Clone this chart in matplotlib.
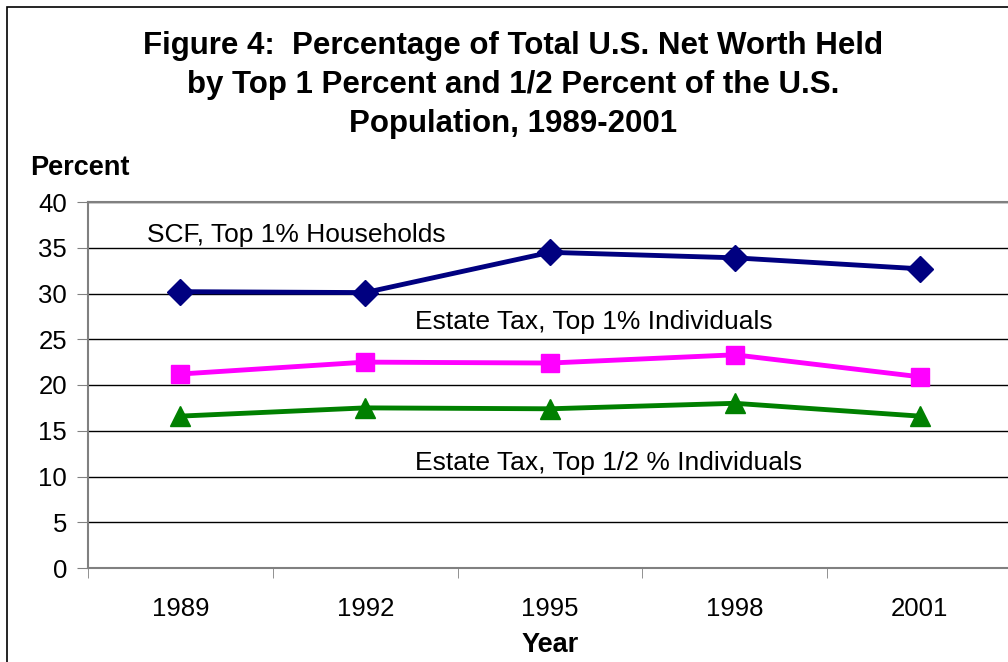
import numpy as np
import matplotlib.pyplot as plt

years = ['1989', '1992', '1995', '1998', '2001']
scf_top1 = [30.2, 30.1, 34.5, 33.9, 32.7]
estate_top1 = [21.2, 22.5, 22.4, 23.3, 20.9]
estate_top_half = [16.6, 17.5, 17.4, 18.0, 16.6]

plt.rcParams['font.family'] = ['Liberation Sans', 'DejaVu Sans']

fig = plt.figure(figsize=(10.08, 6.62), dpi=100)
# border of the original chart box
fig.patches.append(plt.Rectangle((7/1008, -0.1), 1.2, (662-7)/662 + 0.1, transform=fig.transFigure,
                                 fill=False, edgecolor='black', linewidth=1.2))

ax = fig.add_axes([88/1008, 1-568/662, (1012-88)/1008, (568-202)/662])
x = np.arange(len(years))

ax.plot(x, scf_top1, color='#000080', lw=3.5, marker='D', ms=13, clip_on=False)
ax.plot(x, estate_top1, color='#FF00FF', lw=3.5, marker='s', ms=13, clip_on=False)
ax.plot(x, estate_top_half, color='#008000', lw=3.5, marker='^', ms=15, clip_on=False)

ax.set_xlim(-0.5, 4.5)
ax.set_ylim(0, 40)
ax.set_yticks(range(0, 41, 5))
ax.set_yticklabels([str(v) for v in range(0, 41, 5)], fontsize=18.5)
ax.set_xticks(x)
ax.set_xticklabels(years, fontsize=18.5)
ax.set_xticks(np.arange(-0.5, 5, 1), minor=True)
ax.tick_params(axis='x', which='major', length=0, pad=21)
ax.tick_params(axis='x', which='minor', length=7, color='#808080', direction='out')
ax.tick_params(axis='y', length=8, color='#808080', direction='out', pad=7)
ax.grid(axis='y', color='black', lw=1)
ax.set_axisbelow(True)
for s in ['left', 'bottom', 'top']:
    ax.spines[s].set_color('#808080')
    ax.spines[s].set_linewidth(1.5)
ax.spines['right'].set_visible(False)

ax.text(-0.18, 36.4, 'SCF, Top 1% Households', fontsize=19, va='center')
ax.text(1.27, 26.9, 'Estate Tax, Top 1% Individuals', fontsize=19, va='center')
ax.text(1.27, 11.5, 'Estate Tax, Top 1/2 % Individuals', fontsize=19, va='center')

fig.text(513/1008, 1-85/662, 'Figure 4:  Percentage of Total U.S. Net Worth Held\n'
         'by Top 1 Percent and 1/2 Percent of the U.S.\nPopulation, 1989-2001',
         ha='center', va='center', fontsize=22.5, fontweight='bold', linespacing=1.38)
fig.text(30/1008, 1-168/662, 'Percent', fontsize=19.5, fontweight='bold', va='center')
fig.text(550/1008, 1-645/662, 'Year', fontsize=19.5, fontweight='bold', ha='center', va='center')

fig.savefig('out.png', dpi=100)
